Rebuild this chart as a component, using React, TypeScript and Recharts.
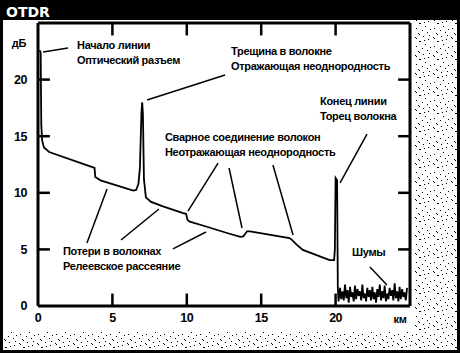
import { LineChart, Line, XAxis, YAxis, ReferenceLine, ReferenceDot } from 'recharts';

// OTDR trace: distance (km) vs. reflected level (dB)
const traceKm = [
  0.1, 0.18, 0.22, 0.28, 0.4, 0.75, 3.7, 3.8, 3.85, 4.2,
  6.4, 6.6, 6.75, 6.85, 6.95, 7.0, 7.05, 7.12, 7.25, 7.6,
  8.4, 9.75, 9.95, 10.05, 10.2, 11.35, 12.7, 13.6, 13.8, 14.05,
  14.25, 16.9, 17.1, 17.4, 17.8, 19.6, 19.9, 19.95, 20.0, 20.1,
  20.15,
];
const traceDb = [
  22.6, 22.4, 16.0, 14.6, 14.0, 13.6, 12.25, 12.2, 11.4, 11.1,
  10.2, 10.25, 10.8, 12.2, 17.0, 18.0, 17.0, 11.2, 9.6, 9.2,
  8.8, 8.2, 8.15, 7.6, 7.45, 7.0, 6.45, 6.1, 6.15, 6.6,
  6.6, 6.0, 5.8, 5.4, 4.95, 4.05, 4.05, 5.0, 11.3, 11.1,
  1.6,
];

// noise floor after the fibre end
const noiseKm = [
  20.2, 20.3, 20.38, 20.47, 20.55, 20.63, 20.72, 20.8, 20.88, 20.97,
  21.05, 21.13, 21.22, 21.3, 21.38, 21.47, 21.55, 21.63, 21.72, 21.8,
  21.88, 21.97, 22.05, 22.13, 22.22, 22.3, 22.38, 22.47, 22.55, 22.63,
  22.72, 22.8, 22.88, 22.97, 23.05, 23.13, 23.22, 23.3, 23.38, 23.47,
  23.55, 23.63, 23.72, 23.8, 23.88, 23.97, 24.05, 24.13, 24.22, 24.3,
  24.38, 24.47, 24.55, 24.63, 24.72, 24.8,
];
const noiseDb = [
  0.4, 1.6, 0.6, 1.3, 0.5, 1.9, 0.7, 1.4, 0.3, 1.7,
  0.8, 1.2, 0.4, 1.8, 0.6, 1.5, 0.9, 1.3, 0.5, 1.9,
  0.7, 1.1, 0.4, 1.6, 0.8, 1.4, 0.5, 1.7, 0.6, 1.2,
  0.3, 1.5, 0.8, 1.9, 0.5, 1.3, 0.7, 1.8, 0.4, 1.1,
  0.6, 1.6, 0.9, 1.4, 0.5, 2.0, 0.7, 1.3, 0.4, 1.7,
  0.6, 1.5, 0.8, 1.2, 0.5, 1.6,
];

const xTicks = [0, 5, 10, 15, 20];
const yTicks = [0, 5, 10, 15, 20];
const innerTicks = [5, 10, 15, 20];

// callout text, anchored at (km, dB) of the first line
const callouts = [
  { lines: ['Начало линии', 'Оптический разъем'], km: 2.62, db: 22.7 },
  { lines: ['Трещина в волокне', 'Отражающая неоднородность'], km: 12.97, db: 22.17 },
  { lines: ['Сварное соединение волокон', 'Неотражающая неоднородность'], km: 8.53, db: 14.58 },
  { lines: ['Конец линии', 'Торец волокна'], km: 18.95, db: 17.76 },
  { lines: ['Потери в волокнах', 'Релеевское рассеяние'], km: 1.68, db: 4.51 },
  { lines: ['Шумы'], km: 21.1, db: 4.42 },
];

// leader lines [km1, dB1, km2, dB2]
const leaders = [
  [0.34, 22.44, 2.02, 22.79],
  [7.33, 18.2, 12.57, 20.4],
  [12.1, 12.63, 10.08, 8.39],
  [12.84, 12.19, 13.71, 6.89],
  [15.79, 12.46, 17.14, 6.27],
  [22.11, 15.19, 20.3, 10.87],
  [3.29, 5.57, 4.64, 10.34],
  [5.58, 5.83, 8.13, 8.57],
  [9.07, 5.04, 11.29, 6.54],
  [22.31, 3.45, 23.45, 1.86],
];

const data = [
  ...traceKm.map((km, i) => ({ km, db: traceDb[i] })),
  ...noiseKm.map((km, i) => ({ km, db: noiseDb[i] })),
];

const font = "'Liberation Sans', Arial, sans-serif";
const tickStyle = { fill: '#000', fontSize: 12.5, fontWeight: 700, fontFamily: font, letterSpacing: -0.5 };
const textStyle = { fill: '#000', fontSize: 11, fontWeight: 700, fontFamily: font, letterSpacing: -0.3 };
const TICK_KM = 0.8;
const TICK_DB = 1.1;

function calloutShape(lines: string[]) {
  return (p: any) => (
    <g>
      {lines.map((t, i) => (
        <text key={i} x={p.cx} y={p.cy + i * 15} {...textStyle}>
          {t}
        </text>
      ))}
    </g>
  );
}

const stippleDots = [
  [1, 1], [2, 2], [9, 0], [14, 3], [5, 5], [6, 5], [11, 8], [2, 10],
  [16, 11], [8, 12], [13, 14], [4, 15], [5, 16], [15, 17], [10, 4],
];

function Stipple() {
  return (
    <svg width={460} height={353} style={{ position: 'absolute', left: 0, top: 0 }}>
      <defs>
        <pattern id="stip" width={18} height={18} patternUnits="userSpaceOnUse">
          <rect width={18} height={18} fill="#fff" />
          {stippleDots.map(([x, y], i) => (
            <rect key={i} x={x} y={y} width={1} height={1} fill="#000" />
          ))}
        </pattern>
      </defs>
      <rect x={0} y={0} width={460} height={353} fill="#000" />
      <rect x={3} y={20} width={454} height={330} fill="url(#stip)" />
      <rect x={3} y={20} width={410} height={311} fill="#fff" />
      <text
        x={6}
        y={17}
        fill="#fff"
        fontSize={14}
        fontWeight={700}
        fontFamily="'DejaVu Sans', sans-serif"
      >
        OTDR
      </text>
    </svg>
  );
}

export default function App() {
  return (
    <div style={{ position: 'absolute', left: 0, top: 0, width: 460, height: 353 }}>
      <Stipple />
      <div style={{ position: 'absolute', left: 0, top: 0 }}>
        <LineChart
          width={460}
          height={353}
          data={data}
          margin={{ top: 23, right: 50, bottom: 0, left: 0 }}
        >
          <XAxis
            type="number"
            dataKey="km"
            domain={[0, 25]}
            ticks={xTicks}
            allowDataOverflow
            tickLine={false}
            axisLine={{ stroke: '#000', strokeWidth: 3 }}
            tick={tickStyle}
            tickSize={5}
            tickMargin={2}
            height={47}
            label={{
              content: ({ viewBox }: any) => (
                <text
                  x={viewBox.x + viewBox.width - 10}
                  y={viewBox.y + 17}
                  textAnchor="middle"
                  {...textStyle}
                >
                  км
                </text>
              ),
            }}
          />
          <YAxis
            type="number"
            domain={[0, 25]}
            ticks={yTicks}
            allowDataOverflow
            tickLine={false}
            axisLine={{ stroke: '#000', strokeWidth: 3 }}
            tick={tickStyle}
            tickSize={6}
            tickMargin={5}
            width={38}
            label={{
              content: ({ viewBox }: any) => (
                <text
                  x={viewBox.x + 19}
                  y={viewBox.y + 24}
                  textAnchor="middle"
                  {...textStyle}
                >
                  дБ
                </text>
              ),
            }}
          />
          <ReferenceLine y={25} stroke="#000" strokeWidth={3} />
          <ReferenceLine x={25} stroke="#000" strokeWidth={3} />
          {innerTicks.map((v) => (
            <ReferenceLine
              key={`b${v}`}
              segment={[{ x: v, y: 0 }, { x: v, y: TICK_DB }]}
              stroke="#000"
              strokeWidth={2.5}
            />
          ))}
          {innerTicks.map((v) => (
            <ReferenceLine
              key={`t${v}`}
              segment={[{ x: v, y: 25 }, { x: v, y: 25 - TICK_DB }]}
              stroke="#000"
              strokeWidth={2.5}
            />
          ))}
          {innerTicks.map((v) => (
            <ReferenceLine
              key={`l${v}`}
              segment={[{ x: 0, y: v }, { x: TICK_KM, y: v }]}
              stroke="#000"
              strokeWidth={2.5}
            />
          ))}
          {innerTicks.map((v) => (
            <ReferenceLine
              key={`r${v}`}
              segment={[{ x: 25, y: v }, { x: 25 - TICK_KM, y: v }]}
              stroke="#000"
              strokeWidth={2.5}
            />
          ))}
          {leaders.map(([x1, y1, x2, y2], i) => (
            <ReferenceLine
              key={`ld${i}`}
              segment={[{ x: x1, y: y1 }, { x: x2, y: y2 }]}
              stroke="#000"
              strokeWidth={1.5}
            />
          ))}
          {callouts.map((c, i) => (
            <ReferenceDot
              key={`c${i}`}
              x={c.km}
              y={c.db}
              r={0}
              shape={calloutShape(c.lines)}
            />
          ))}
          <Line
            type="linear"
            dataKey="db"
            stroke="#000"
            strokeWidth={1.8}
            dot={false}
            isAnimationActive={false}
          />
        </LineChart>
      </div>
    </div>
  );
}
